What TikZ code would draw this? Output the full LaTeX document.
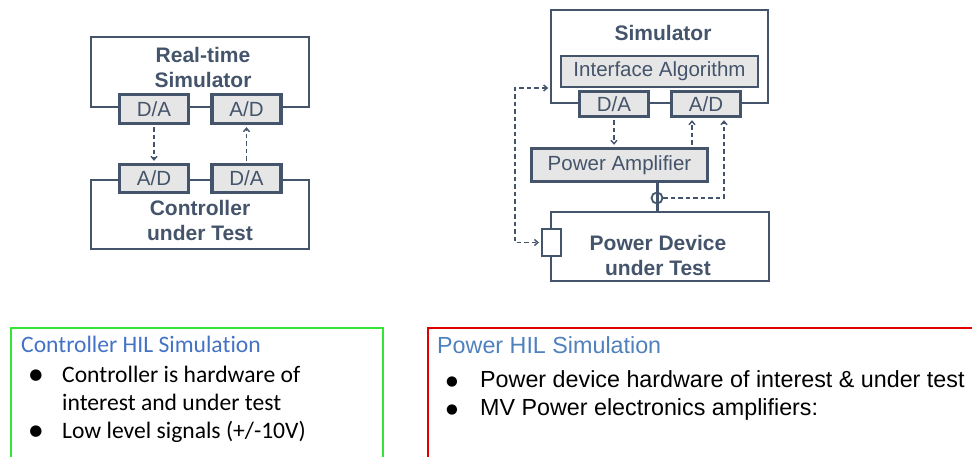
\documentclass[tikz,border=0pt]{standalone}
\usepackage{fontspec}
\setmainfont{Liberation Sans}
\newfontfamily\calib[Ligatures=NoCommon]{Carlito}
\newfontfamily\djv{DejaVu Sans}
\usetikzlibrary{arrows.meta,calc}
\definecolor{slate}{HTML}{44546A}
\definecolor{boxgray}{HTML}{E7E6E6}
\definecolor{hblue}{HTML}{4472C4}
\definecolor{hbluetwo}{HTML}{4F81BD}
\definecolor{fgreen}{HTML}{33E633}
\definecolor{fred}{HTML}{E00000}
\begin{document}
\begin{tikzpicture}[x=1pt,y=-1pt,
  frame/.style={draw=slate, line width=1.6pt, inner sep=0pt},
  conv/.style={draw=slate, fill=boxgray, line width=3.4pt, inner sep=0pt, text=slate, font=\fontsize{20.5}{24}\selectfont},
  title/.style={align=center, text=slate, font=\bfseries\fontsize{21}{25}\selectfont, inner sep=0pt},
  sig/.style={draw=slate, line width=1.4pt, dash pattern=on 4.5pt off 3pt, shorten <=2pt, shorten >=2pt, -{Straight Barb[length=3.5pt,width=6pt]}},
  sigtwo/.style={sig, {Straight Barb[length=3.5pt,width=6pt]}-{Straight Barb[length=3.5pt,width=6pt]}},
  head/.style={anchor=base west, inner sep=0pt},
  body/.style={anchor=base west, inner sep=0pt, text=black},
  dot/.style={anchor=center, inner sep=0pt, text=black, font=\djv\fontsize{15}{15}\selectfont},
  cfont/.style={font=\calib\fontsize{23.6}{27}\selectfont},
  pfont/.style={font=\fontsize{23.3}{27}\selectfont}
]
\useasboundingbox (0,0) rectangle (972,457);

% ---- left diagram ----
\node[frame, minimum width=218pt, minimum height=70pt] (rts) at (200,72) {};
\node[title] (rtslbl) at (203,67.5) {Real-time\\Simulator};
\node[conv, minimum width=69pt, minimum height=29pt] (da1) at (154,109) {D/A};
\node[conv, minimum width=69pt, minimum height=29pt] (ad1) at (246.5,109) {A/D};
\node[frame, minimum width=218pt, minimum height=69pt] (cut) at (200,214.5) {};
\node[conv, minimum width=69pt, minimum height=28pt] (ad2) at (154,178.5) {A/D};
\node[conv, minimum width=69pt, minimum height=28pt] (da2) at (246.5,178.5) {D/A};
\node[title] (cutlbl) at (200,220.5) {Controller\\under Test};
\draw[sig] (da1.south) -- (ad2.north);
\draw[sig] (da2.north) -- (ad1.south);

% ---- right diagram ----
\node[frame, minimum width=217pt, minimum height=93pt] (sim) at (659.5,56.5) {};
\node[title] (simlbl) at (663,33) {Simulator};
\node[conv, line width=2pt, minimum width=197pt, minimum height=31pt] (ia) at (659.5,71.5) {Interface Algorithm};
\node[conv, minimum width=69pt, minimum height=25pt] (da3) at (614,104) {D/A};
\node[conv, minimum width=69pt, minimum height=25pt] (ad3) at (706,104) {A/D};
\node[conv, minimum width=176pt, minimum height=33pt] (pa) at (619.5,165) {Power Amplifier};
\node[frame, line width=2pt, minimum width=218pt, minimum height=69pt] (pd) at (660,246.5) {};
\node[title] (pdlbl) at (658,255) {Power Device\\under Test};
\node[draw=slate, fill=white, line width=2pt, minimum width=19pt, minimum height=27pt, inner sep=0pt] (sens) at (551.5,242.5) {};
\coordinate (cm) at (657,198);
\draw[slate, line width=3pt] (pa.south -| cm) -- (pd.north -| cm);
\node[circle, draw=slate, line width=1.8pt, minimum size=11pt, inner sep=0pt] (ct) at (cm) {};
\coordinate (fb) at (724,198);
\draw[sig, shorten <=0pt] (ct.east) -- (fb) -- (fb |- ad3.south);
\draw[sig] (da3.south) -- (da3.south |- pa.north);
\coordinate (ps) at (692,0);
\draw[sig] (ps |- pa.north) -- (ps |- ad3.south);
\coordinate (lp) at (515,88);
\draw[sigtwo] (sim.west |- lp) -- (lp) |- (sens.west);

% ---- bottom panels ----
\draw[fgreen, line width=2pt] (11,470) -- (11,328) -- (383,328) -- (383,470);
\draw[fred, line width=2pt] (428,470) -- (428,328) -- (990,328);

\node[head, text=hblue, cfont] (h1) at (21,352) {Controller HIL Simulation};
\node[dot] (b1) at (36,376) {●};
\node[body, cfont] (t1) at (62,382) {Controller is hardware of};
\node[body, cfont] (t2) at (62,410) {interest and under test};
\node[dot] (b2) at (36,432) {●};
\node[body, cfont] (t3) at (62,438) {Low level signals (+/-10V)};

\node[head, text=hbluetwo, pfont] (h2) at (437,353) {Power HIL Simulation};
\node[dot, font=\djv\fontsize{13.5}{13.5}\selectfont] (b3) at (452,382) {●};
\node[body, pfont] (t4) at (480,387) {Power device hardware of interest \& under test};
\node[dot, font=\djv\fontsize{13.5}{13.5}\selectfont] (b4) at (452,410) {●};
\node[body, pfont] (t5) at (480,415) {MV Power electronics amplifiers:};
\end{tikzpicture}
\end{document}
